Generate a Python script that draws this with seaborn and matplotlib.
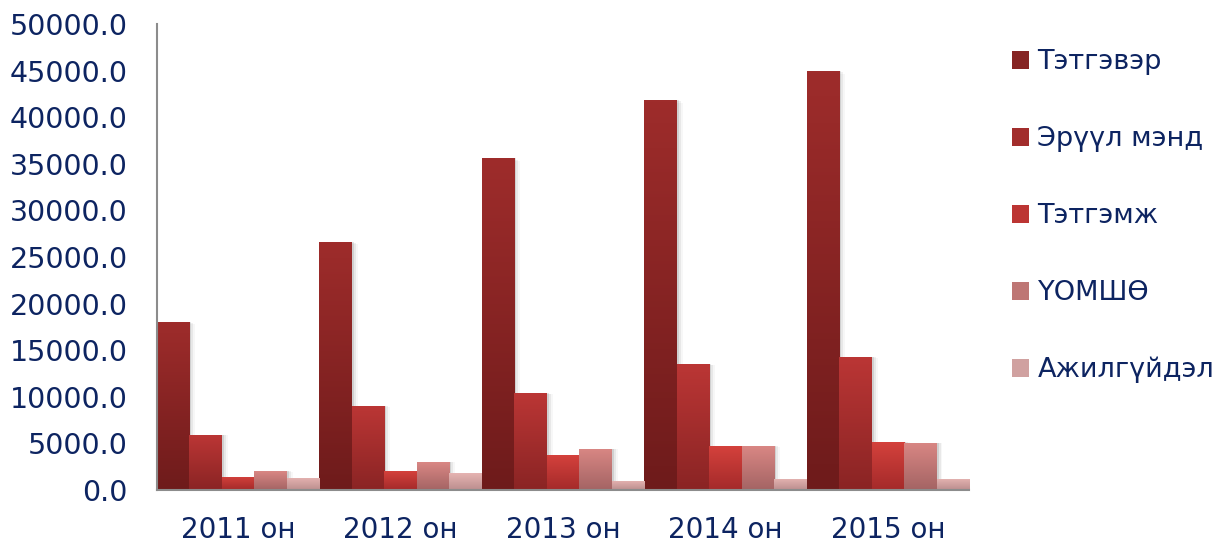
import matplotlib.pyplot as plt
import matplotlib.colors as mcolors
from matplotlib.patches import Patch, Rectangle
import seaborn as sns
import numpy as np
import pandas as pd

# Data
years = ["2011 он", "2012 он", "2013 он", "2014 он", "2015 он"]
series = ["Тэтгэвэр", "Эрүүл мэнд", "Тэтгэмж", "ҮОМШӨ", "Ажилгүйдэл"]
tetgever = [18000, 26600, 35600, 41900, 45000]
eruul_mend = [5900, 9000, 10400, 13500, 14300]
tetgemj = [1400, 2000, 3750, 4700, 5150]
uomshu = [2000, 3000, 4400, 4700, 5050]
ajilguidel = [1300, 1800, 1000, 1200, 1200]

values = [tetgever, eruul_mend, tetgemj, uomshu, ajilguidel]
df = pd.DataFrame({
    "year": np.repeat([years], len(series), axis=0).ravel(),
    "series": np.repeat(series, len(years)),
    "value": np.concatenate(values),
})

# (top colour, bottom colour) for the gradient fills
grad = [("#9e2c2b", "#6e1b1b"),
        ("#bb3635", "#8a2424"),
        ("#d4413c", "#a42a2a"),
        ("#d98784", "#a46464"),
        ("#e6b4b2", "#bb8e8e")]
mid = [mcolors.to_hex((np.array(mcolors.to_rgb(a)) + np.array(mcolors.to_rgb(b))) / 2) for a, b in grad]

text_color = "#0d2461"
axis_color = "#8c8c8c"

sns.set_style("white")
plt.rcParams['font.family'] = ['DejaVu Sans']

fig = plt.figure(figsize=(12.19, 5.48), dpi=100)
ax = fig.add_axes([0.1288, 0.1058, 0.795 - 0.1288, 0.956 - 0.1058])

sns.barplot(data=df, x="year", y="value", hue="series", hue_order=series,
            palette=mid, width=1.0, ax=ax, legend=False, saturation=1,
            errorbar=None, linewidth=0)

# gradient fill + soft shadow for every bar
for i, container in enumerate(ax.containers):
    top, bot = grad[i]
    cmap = mcolors.LinearSegmentedColormap.from_list("g%d" % i, [bot, top])
    for patch in container.patches:
        x, w, h = patch.get_x(), patch.get_width(), patch.get_height()
        for k, a in enumerate([0.10, 0.06, 0.03]):
            ax.add_patch(Rectangle((x + w, 0), 0.012 * (k + 1), h * (1 - 0.004 * k),
                                   facecolor="#000000", alpha=a, lw=0, zorder=1))
        img = np.linspace(0, 1, 128).reshape(-1, 1)
        im = ax.imshow(img, extent=[x, x + w, 0, h], origin="lower", aspect="auto",
                       cmap=cmap, zorder=2)
        im.set_clip_path(patch)
        patch.set_zorder(2)

ax.set_xlim(-0.5, 4.5)
ax.set_ylim(0, 50000)
ax.set_yticks(np.arange(0, 50001, 5000))
ax.set_yticklabels([f"{v:.1f}" for v in np.arange(0, 50001, 5000)])

# category boundary ticks on x axis, labels centred
ax.set_xticks(np.arange(-0.5, 5, 1.0))
ax.set_xticklabels([])
ax.set_xticks(np.arange(5), minor=True)
ax.set_xticklabels(years, minor=True)
ax.tick_params(axis="x", which="minor", length=0, pad=19, labelsize=20, labelcolor=text_color)
ax.tick_params(axis="x", which="major", length=7, width=1.5, color=axis_color, direction="out")
ax.tick_params(axis="y", length=7, width=1.5, color=axis_color, direction="out", pad=14,
               labelsize=20.5, labelcolor=text_color)

ax.set_xlabel("")
ax.set_ylabel("")
for s in ["top", "right"]:
    ax.spines[s].set_visible(False)
for s in ["left", "bottom"]:
    ax.spines[s].set_color(axis_color)
    ax.spines[s].set_linewidth(1.5)

handles = [Patch(facecolor=c, edgecolor="none") for c in mid]
leg = fig.legend(handles, series, loc="upper left", bbox_to_anchor=(0.830, 0.91),
                 frameon=False, fontsize=19.5, labelspacing=1.88,
                 handlelength=0.65, handleheight=0.65, handletextpad=0.3,
                 borderaxespad=0, borderpad=0)
for t in leg.get_texts():
    t.set_color(text_color)

fig.savefig("out.png", dpi=100)
